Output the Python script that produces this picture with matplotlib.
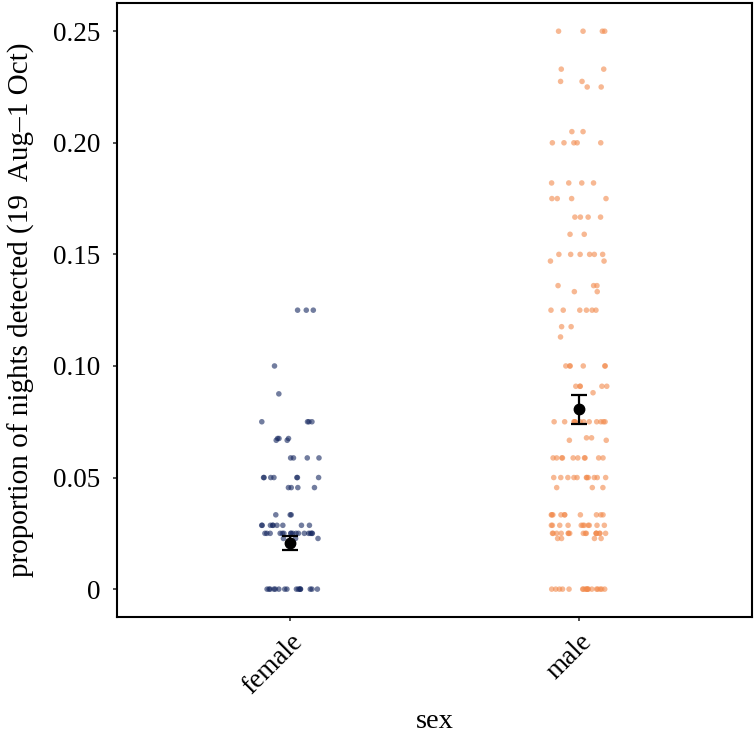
import matplotlib
matplotlib.use("Agg")
import matplotlib.pyplot as plt
import numpy as np

plt.rcParams['font.family'] = ['Liberation Serif', 'DejaVu Serif']

# data
sexes = ["female", "male"]

female_vals = ([0.125] * 3 + [0.1] + [0.0875] + [0.075] * 4 + [0.0675] * 3 + [0.0667] * 2
               + [0.0588] * 4 + [0.05] * 7 + [0.0455] * 4 + [0.0333] * 3 + [0.0286] * 9
               + [0.025] * 16 + [0.0227] * 3 + [0.0] * 16)

male_vals = ([0.25] * 4 + [0.233] * 2 + [0.2275] * 2 + [0.225] * 2 + [0.205] * 2 + [0.2] * 5
             + [0.182] * 4 + [0.175] * 4 + [0.1667] * 4 + [0.159] * 2 + [0.15] * 6 + [0.147] * 2
             + [0.136] * 3 + [0.1333] * 2 + [0.125] * 6 + [0.1176] * 2 + [0.113] + [0.1] * 6
             + [0.0909] * 5 + [0.088] + [0.075] * 12 + [0.0678] * 2 + [0.0667] * 2
             + [0.0588] * 10 + [0.05] * 11 + [0.0455] * 3 + [0.0333] * 10 + [0.0286] * 11
             + [0.025] * 16 + [0.0227] * 4 + [0.0] * 18)

means = [0.0207, 0.0805]
ses = [0.0033, 0.0066]

yticks = [0, 0.05, 0.10, 0.15, 0.20, 0.25]
ytick_labels = ["0", "0.05", "0.10", "0.15", "0.20", "0.25"]

colors = ["#15275f", "#f28a4c"]

fig = plt.figure(figsize=(7.56, 7.35), dpi=100)
ax = fig.add_axes([0.155, 0.1605, 0.84, 0.835])

# horizontal jitter (position only)
rng = np.random.default_rng(7)
for i, vals in enumerate([female_vals, male_vals]):
    x = i + 1 + rng.uniform(-0.1, 0.1, len(vals))
    ax.scatter(x, vals, s=16, color=colors[i], alpha=0.6, edgecolors="none", zorder=2)

ax.errorbar([1, 2], means, yerr=ses, fmt="o", color="black", ms=7.5,
            capsize=5.5, elinewidth=1.6, capthick=1.6, zorder=3)

ax.set_xlim(0.4, 2.6)
ax.set_ylim(-0.0125, 0.2625)
ax.set_xticks([1, 2])
ax.set_xticklabels(sexes, rotation=45, ha="right", va="top", rotation_mode="anchor")
ax.set_yticks(yticks)
ax.set_yticklabels(ytick_labels)
ax.tick_params(axis="both", labelsize=19.5, length=3, width=1.2, color="#333333")
ax.tick_params(axis="y", pad=9)
ax.tick_params(axis="x", pad=6)

for s in ax.spines.values():
    s.set_linewidth(1.5)
    s.set_color("black")

ax.set_xlabel("sex", fontsize=20.5, labelpad=7)
ax.set_ylabel("proportion of nights detected (19  Aug\u20131 Oct)", fontsize=21, labelpad=13)

fig.savefig("out.png", dpi=100)
